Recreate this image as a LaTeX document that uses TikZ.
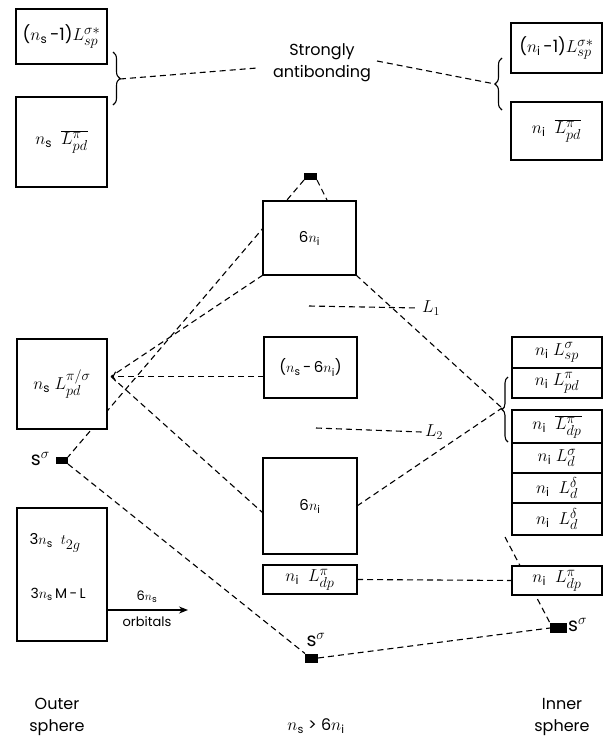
\documentclass[tikz,border=0pt]{standalone}
\usepackage{fontspec}
\setmainfont{Poppins}
\usetikzlibrary{decorations.pathreplacing,arrows.meta,backgrounds}
% orbital symbol L with full-size scripts
\newcommand\scr[1]{\hbox{\fontsize{13.5}{14}\selectfont$#1$}}
\newcommand\orbL[2]{L^{\scr{#1}}_{\scr{#2}}}
\newcommand\orbLbar[2]{\overline{L^{\scr{#1}}_{\scr{#2}}}}
\begin{document}
\begin{tikzpicture}[x=1pt,y=-1pt,
  box/.style={draw, line width=1.6pt, fill=white, inner sep=0pt, outer sep=0pt,
    font=\fontsize{17}{19}\selectfont},
  conn/.style={line width=1.1pt, dash pattern=on 6pt off 4pt},
  lvl/.style={fill=black, inner sep=0pt, outer sep=0pt},
  lbl/.style={font=\fontsize{16}{22}\selectfont, align=center},
  slbl/.style={font=\fontsize{19}{20}\selectfont, inner sep=1pt},
  small/.style={font=\fontsize{13}{15}\selectfont},
  brc/.style={decorate, line width=1.1pt},
]
\useasboundingbox (0,0) rectangle (604,737);

% ---- outer sphere column
\node[box, minimum width=91pt, minimum height=55pt] (A) at (61.5,36.5)
  {($n_\mathrm{s}$\,-1)$\orbL{\sigma\ast}{sp}$};
\node[box, minimum width=91pt, minimum height=90pt] (B) at (61.5,142)
  {$n_\mathrm{s}\ \ \orbLbar{\pi}{pd}$};
\node[box, minimum width=90pt, minimum height=90pt] (C) at (62,384)
  {$n_\mathrm{s}\ \orbL{\pi/\sigma}{pd}$};
\node[box, minimum width=90pt, minimum height=133pt] (D) at (62,574.5) {};
\node[font=\fontsize{15}{17}\selectfont, anchor=west] (Dt) at (26,543) {3$n_\mathrm{s}$\ \ $t_{\scr{2g}}$};
\node[font=\fontsize{14}{16}\selectfont, anchor=west] (Dm) at (27,594) {3$n_\mathrm{s}$\,M\,-\,L};
\node[lvl, minimum width=12pt, minimum height=7pt] (sl) at (62,460.5) {};
\node[slbl, anchor=east] (slt) at (51,459) {s$^\sigma$};

% ---- central column
\node[lvl, minimum width=13pt, minimum height=7pt] (tt) at (310.5,176.5) {};
\node[box, minimum width=93pt, minimum height=74pt, font=\fontsize{15}{17}\selectfont] (E) at (309.5,238) {6$n_\mathrm{i}$};
\node[box, minimum width=93pt, minimum height=61pt, font=\fontsize{15}{17}\selectfont] (F) at (310.5,367.5)
  {($n_\mathrm{s}$\,-\,6$n_\mathrm{i}$)};
\node[box, minimum width=94pt, minimum height=96pt, font=\fontsize{15}{17}\selectfont] (G) at (310,506) {6$n_\mathrm{i}$};
\node[box, minimum width=94pt, minimum height=29pt] (H) at (310,579.5)
  {$n_\mathrm{i}\ \ \orbL{\pi}{dp}$};
\node[lvl, minimum width=13pt, minimum height=9pt] (sb) at (311.5,658) {};
\node[slbl] (sbt) at (316,640) {s$^\sigma$};
\node[font=\fontsize{18}{20}\selectfont] (L1) at (431,308) {$L_1$};
\node[font=\fontsize{18}{20}\selectfont] (L2) at (434,432) {$L_2$};
\coordinate (L1s) at (309,306);
\coordinate (L2s) at (316,428);

% ---- inner sphere column
\node[box, minimum width=91pt, minimum height=50pt] (I) at (556.5,48)
  {($n_\mathrm{i}$\,-1)$\orbL{\sigma\ast}{sp}$};
\node[box, minimum width=91pt, minimum height=58pt] (J) at (556.5,131)
  {$n_\mathrm{i}\ \ \orbLbar{\pi}{pd}$};
\node[box, minimum width=90pt, minimum height=31pt] (K) at (557,352.5) {$n_\mathrm{i}\ \orbL{\sigma}{sp}$};
\node[box, minimum width=90pt, minimum height=30pt] (Lb) at (557,383) {$n_\mathrm{i}\ \orbL{\pi}{pd}$};
\node[box, minimum width=90pt, minimum height=33pt] (M) at (557,426.5) {$n_\mathrm{i}\ \ \orbLbar{\pi}{dp}$};
\node[box, minimum width=90pt, minimum height=30pt] (N) at (557,458) {$n_\mathrm{i}\ \orbL{\sigma}{d}$};
\node[box, minimum width=90pt, minimum height=30pt] (O) at (557,488) {$n_\mathrm{i}\ \ \orbL{\delta}{d}$};
\node[box, minimum width=90pt, minimum height=32pt] (P) at (557,519) {$n_\mathrm{i}\ \ \orbL{\delta}{d}$};
\node[box, minimum width=90pt, minimum height=29pt] (Q) at (557,580.5) {$n_\mathrm{i}\ \ \orbL{\pi}{dp}$};
\node[lvl, minimum width=17pt, minimum height=10pt] (sr) at (558.5,628) {};
\node[slbl, anchor=west] (srt) at (567,625) {s$^\sigma$};

% ---- labels
\node[lbl] (sa) at (322,63) {Strongly\\antibonding};
\node[lbl] (outer) at (57,717) {Outer\\sphere};
\node[lbl] (inner) at (562,717) {Inner\\sphere};
\node[lbl] (cond) at (316,726) {$n_\mathrm{s}$ > 6$n_\mathrm{i}$};

% ---- braces and their tips
\draw[brc, decoration={brace, amplitude=7pt}] (113,52) -- (113,105);
\draw[brc, decoration={brace, amplitude=7pt}] (502,110) -- (502,58);
\draw[brc, decoration={brace, amplitude=6pt}] (508,442) -- (508,377);
\coordinate (lbr) at (120,79);
\coordinate (rbr) at (495,84);
\coordinate (sbr) at (502,408);
\coordinate (saL) at (257,68);
\coordinate (saR) at (377,61);
\coordinate (Ca) at (111,376.5);
\coordinate (Gin) at (263,513);
\coordinate (Pc) at (505,537);

% ---- 6 ns orbitals arrow
\coordinate (arr) at (188,610);
\draw[line width=1.3pt, -{Stealth[length=9pt,width=7pt]}] (D.east |- arr) -- (arr);
\node[small] (six) at (147,597) {6$n_\mathrm{s}$};
\node[small] (orb) at (147,622) {orbitals};

% ---- dashed correlation lines
\begin{scope}[on background layer]
\draw[conn] (lbr) -- (saL);
\draw[conn] (saR) -- (rbr);
\draw[conn] (tt.south west) -- (sl.north east);
\draw[conn] (tt.south east) -- ([xshift=18pt]E.north);
\draw[conn, -{To[length=5pt,width=10pt]}] (F.west |- Ca) -- (Ca);
\draw[conn] (E.south west) -- (Ca);
\draw[conn] (Ca) -- (Gin);
\draw[conn] (E.south east) -- (sbr);
\draw[conn] (G.east) -- (sbr);
\draw[conn] (H.east) -- (Q.west);
\draw[conn] (sl.south east) -- (sb.north west);
\draw[conn] (sb.east) -- (sr.west);
\draw[conn] (Pc) -- (sr.north west);
\draw[conn] (L1s) -- (L1.west);
\draw[conn] (L2s) -- (L2.west);
\end{scope}
\end{tikzpicture}
\end{document}
